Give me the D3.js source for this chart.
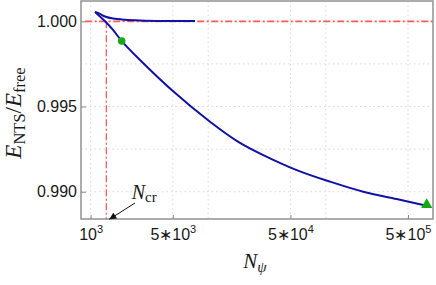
<!DOCTYPE html>
<html><head><meta charset="utf-8">
<script src="https://cdn.jsdelivr.net/npm/d3@7"></script>
<style>body{margin:0;background:#fff}svg{display:block}</style>
</head><body><svg id="c" width="436" height="285"></svg>
<script>
// ---- data ----
const lowerN = [1090,1326,1551,1839,2631,4894,10360,18030,29410,56570,108600,208400,400800,721000];
const lowerE = [1.000546,1.0000,0.99949,0.99884,0.99773,0.99597,0.99411,0.99293,0.99215,0.99127,0.99059,0.99000,0.98957,0.98918];
const upperN = [1090,1202,1326,1551,1961,2631,4293,7722];
const upperE = [1.000546,1.00043,1.00028,1.00016,1.00009,1.00005,1.00002,1.00001];
const circleN = [1839], circleE = [0.99884];
const triN = [721000], triE = [0.98918];
const xTicks = [1000,5000,50000,500000];
const xTickBase = ["10","5∗10","5∗10","5∗10"];
const xTickExp = ["3","3","4","5"];
const xGrid = [1000,5000,10000,50000,100000,500000];
const yTicks = [1.000,0.995,0.990];
const yGrid = [1.000,0.9975,0.995,0.9925,0.990];
const refE = 1.0, refStartN = 900, Ncr = 1360;
const arrowN = [2386,1442], arrowE = [0.98934,0.98838];
const ncrLabelN = 2236, ncrLabelE = 0.98958;

// ---- scales ----
const svg = d3.select("#c");
const L=81,R=433,T=1,B=219;
const x = d3.scaleLog().domain([828.4,815700]).range([L,R]);
const y = d3.scaleLinear().domain([0.98840,1.00119]).range([B,T]);

// grid
const g = svg.append("g");
g.selectAll(".gx").data(xGrid).join("line")
 .attr("x1",d=>x(d)).attr("x2",d=>x(d)).attr("y1",T).attr("y2",B)
 .attr("stroke","#d9d9d9").attr("stroke-width",1).attr("stroke-dasharray","1.5,3");
g.selectAll(".gy").data(yGrid).join("line")
 .attr("x1",L).attr("x2",R).attr("y1",d=>y(d)).attr("y2",d=>y(d))
 .attr("stroke","#d9d9d9").attr("stroke-width",1).attr("stroke-dasharray","1.5,3");

// red reference lines
const red = "#ff5a5a";
svg.append("line").attr("x1",x(refStartN)).attr("x2",R).attr("y1",y(refE)).attr("y2",y(refE))
 .attr("stroke",red).attr("stroke-width",1.7).attr("stroke-dasharray","7,2.5,2,2.5");
svg.append("line").attr("x1",x(Ncr)).attr("x2",x(Ncr)).attr("y1",y(refE)).attr("y2",B)
 .attr("stroke",red).attr("stroke-width",1.3).attr("stroke-dasharray","7,2.5,2,2.5");

// curves
const line = d3.line().x(d=>x(d[0])).y(d=>y(d[1])).curve(d3.curveCatmullRom.alpha(0.5));
const blue = "#1111a6";
svg.append("path").datum(upperN.map((n,i)=>[n,upperE[i]])).attr("d",line)
 .attr("fill","none").attr("stroke",blue).attr("stroke-width",2);
svg.append("path").datum(lowerN.map((n,i)=>[n,lowerE[i]])).attr("d",line)
 .attr("fill","none").attr("stroke",blue).attr("stroke-width",2);

// markers
const green = "#14a814";
svg.selectAll(".dot").data(circleN).join("circle")
 .attr("cx",d=>x(d)).attr("cy",(d,i)=>y(circleE[i])).attr("r",3.8).attr("fill",green);
svg.selectAll(".tri").data(triN).join("path")
 .attr("d",d3.symbol().type(d3.symbolTriangle).size(55))
 .attr("transform",(d,i)=>`translate(${x(d)},${y(triE[i])-1})`).attr("fill",green);

// frame
svg.append("rect").attr("x",L).attr("y",T).attr("width",R-L).attr("height",B-T)
 .attr("fill","none").attr("stroke","#8a8a8a").attr("stroke-width",1.4);

// axes
const ax = svg.append("g").attr("transform",`translate(0,${B})`)
 .call(d3.axisBottom(x).tickValues(xTicks).tickSizeInner(-4).tickSizeOuter(0).tickPadding(9.5).tickFormat(""));
ax.select(".domain").remove();
ax.selectAll(".tick line").attr("stroke","#8a8a8a");
ax.selectAll(".tick text").each(function(d,i){
  const t=d3.select(this).attr("font-family","Liberation Sans, Arial, sans-serif").attr("font-size",16).attr("fill","#1a1a1a");
  t.append("tspan").text(xTickBase[i]);
  t.append("tspan").text(xTickExp[i]).attr("font-size",11).attr("dy",-6.5);
});
const ay = svg.append("g").attr("transform",`translate(${L},0)`)
 .call(d3.axisLeft(y).tickValues(yTicks).tickSizeInner(-5).tickSizeOuter(0).tickPadding(4).tickFormat(d3.format(".3f")));
ay.select(".domain").remove();
ay.selectAll(".tick line").attr("stroke","#8a8a8a");
ay.selectAll(".tick text").attr("font-family","Liberation Sans, Arial, sans-serif").attr("font-size",16).attr("fill","#1a1a1a");

// axis titles
const serif = "Liberation Serif, Times New Roman, serif";
const yl = svg.append("text").attr("transform","translate(21,113) rotate(-90)")
 .attr("text-anchor","middle").attr("font-family",serif).attr("font-size",23).attr("fill","#1a1a1a");
yl.append("tspan").attr("font-style","italic").text("E");
yl.append("tspan").attr("font-size",16.5).attr("dy",4).text("NTS");
yl.append("tspan").attr("dy",-4).text("/");
yl.append("tspan").attr("font-style","italic").text("E");
yl.append("tspan").attr("font-size",16.5).attr("dy",4).text("free");

const xl = svg.append("text").attr("x",255).attr("y",268).attr("text-anchor","middle")
 .attr("font-family",serif).attr("font-size",21).attr("fill","#1a1a1a");
xl.append("tspan").attr("font-style","italic").text("N");
xl.append("tspan").attr("font-style","italic").attr("font-size",15).attr("dy",4).text("ψ");

// N_cr annotation
svg.append("defs").append("marker").attr("id","ah").attr("viewBox","0 0 10 10")
 .attr("refX",10).attr("refY",5).attr("markerWidth",9).attr("markerHeight",7)
 .attr("markerUnits","userSpaceOnUse").attr("orient","auto")
 .append("path").attr("d","M0,0L10,5L0,10Z").attr("fill","#111");
svg.append("line").attr("x1",x(arrowN[0])).attr("y1",y(arrowE[0])).attr("x2",x(arrowN[1])).attr("y2",y(arrowE[1]))
 .attr("stroke","#111").attr("stroke-width",1).attr("marker-end","url(#ah)");
const nl = svg.append("text").attr("x",x(ncrLabelN)).attr("y",y(ncrLabelE))
 .attr("font-family",serif).attr("font-size",20).attr("fill","#1a1a1a");
nl.append("tspan").attr("font-style","italic").text("N");
nl.append("tspan").attr("font-size",15).attr("dy",3).text("cr");
</script></body></html>
